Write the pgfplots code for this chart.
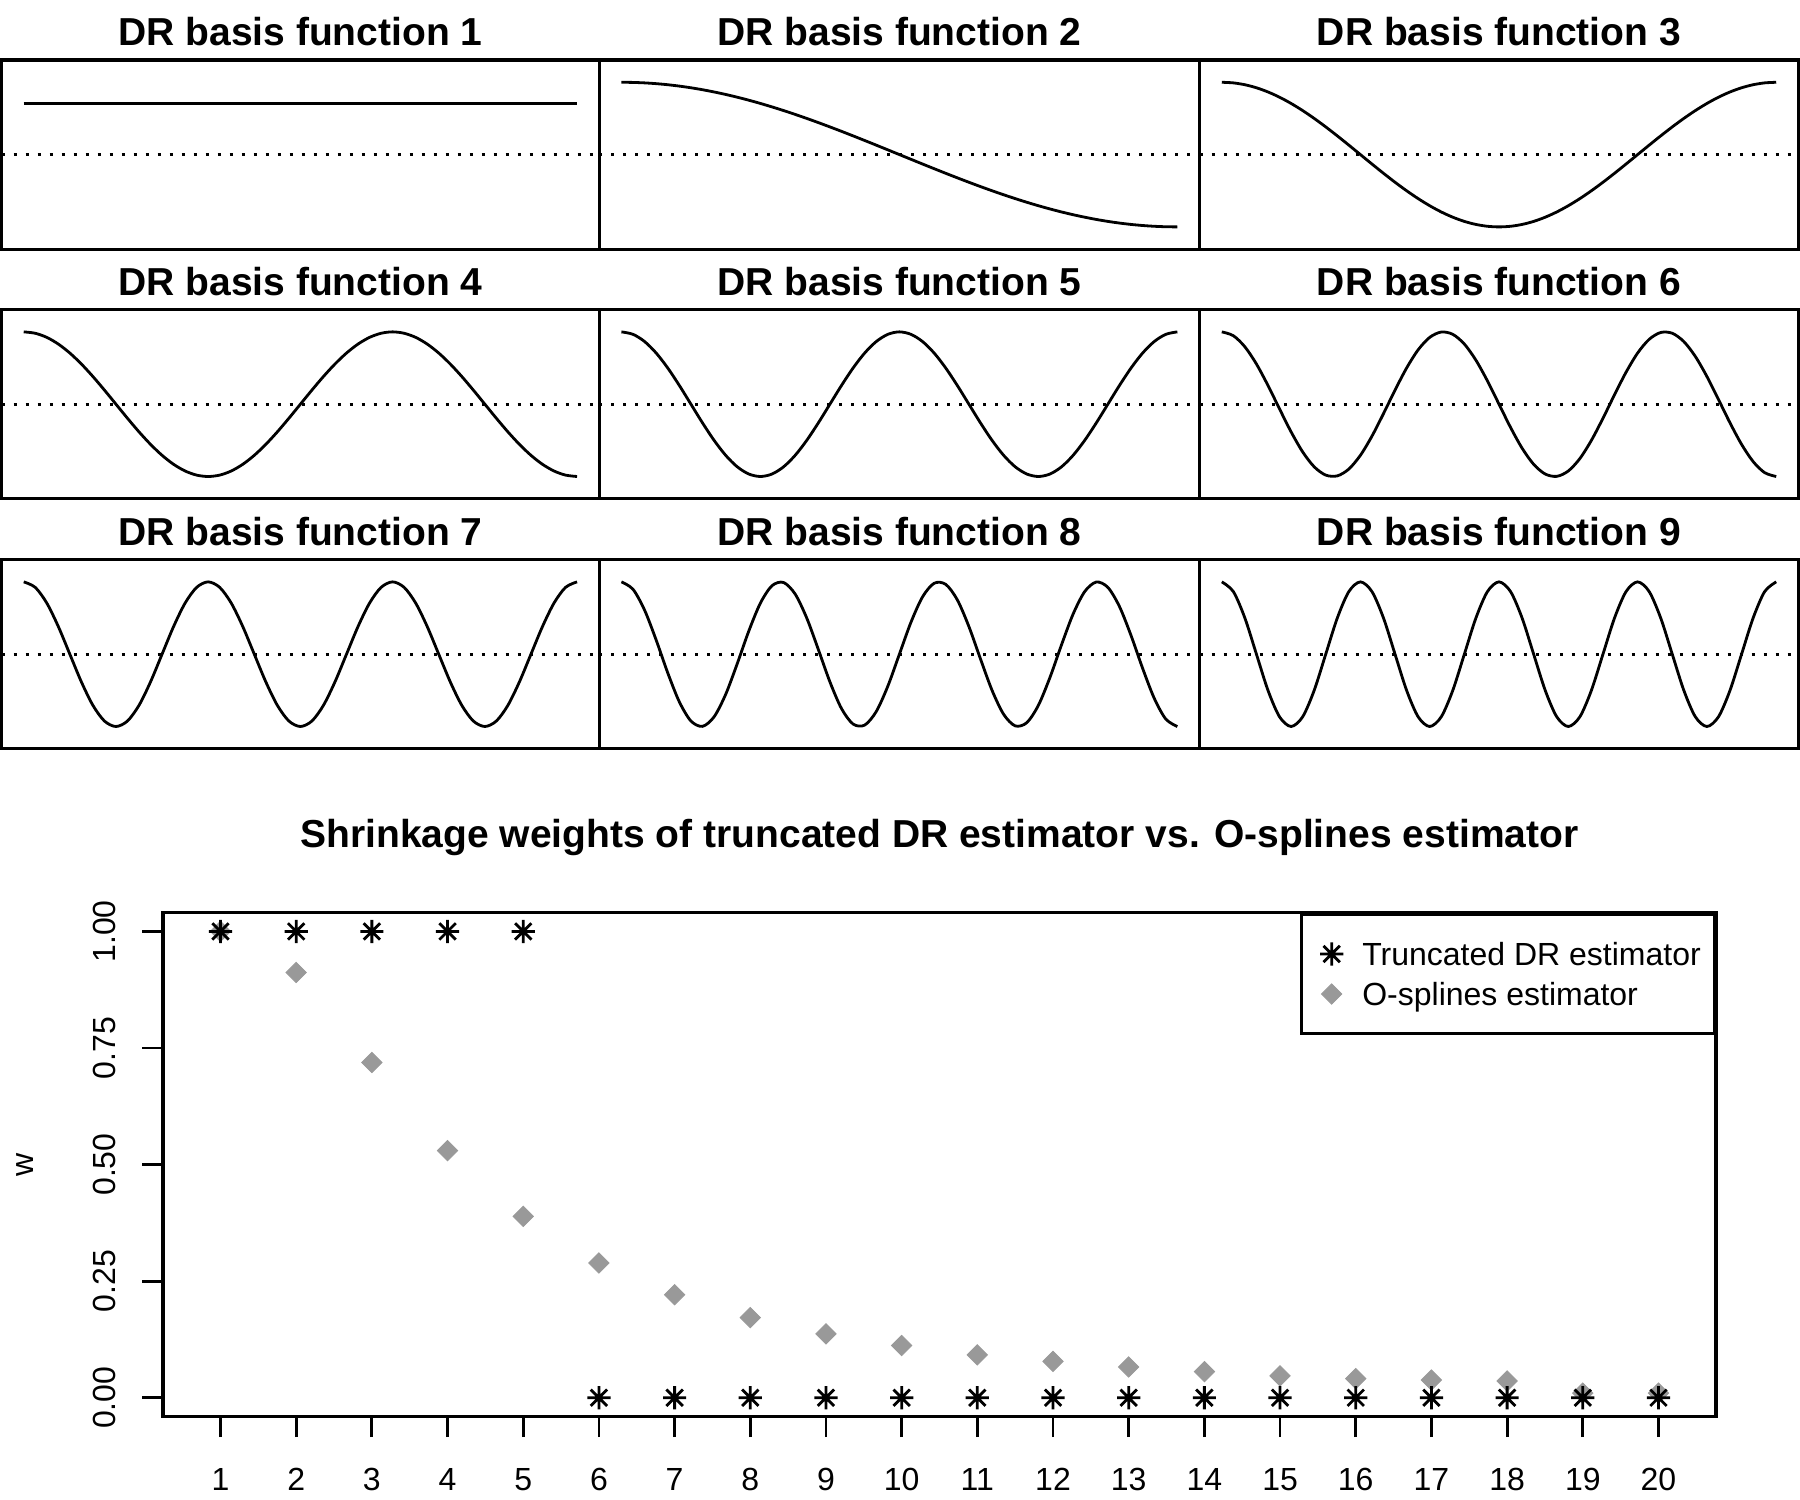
\documentclass[border=0pt]{standalone}
\usepackage{fontspec}
\setmainfont{Liberation Sans}
\usepackage{pgfplots}
\usepackage{pgfplotstable}
\pgfplotsset{compat=1.18}
\definecolor{rgray}{RGB}{153,153,153}
\pgfdeclareplotmark{Rast}{%
  \pgfpathmoveto{\pgfqpoint{-\pgfplotmarksize}{0pt}}\pgfpathlineto{\pgfqpoint{\pgfplotmarksize}{0pt}}%
  \pgfpathmoveto{\pgfqpoint{0pt}{-\pgfplotmarksize}}\pgfpathlineto{\pgfqpoint{0pt}{\pgfplotmarksize}}%
  \pgfpathmoveto{\pgfqpoint{-.70710678\pgfplotmarksize}{-.70710678\pgfplotmarksize}}\pgfpathlineto{\pgfqpoint{.70710678\pgfplotmarksize}{.70710678\pgfplotmarksize}}%
  \pgfpathmoveto{\pgfqpoint{-.70710678\pgfplotmarksize}{.70710678\pgfplotmarksize}}\pgfpathlineto{\pgfqpoint{.70710678\pgfplotmarksize}{-.70710678\pgfplotmarksize}}%
  \pgfusepathqstroke}

\pgfplotstableread{
x f2 f3 f4 f5 f6 f7 f8 f9
0 1.4142 1.4142 1.4142 1.4142 1.4142 1.4142 1.4142 1.4142
0.020833 1.4112 1.4021 1.3870 1.3660 1.3392 1.3066 1.2684 1.2247
0.041667 1.4021 1.3660 1.3066 1.2247 1.1220 1.0000 0.8609 0.7071
0.0625 1.3870 1.3066 1.1759 1.0000 0.7857 0.5412 0.2759 0
0.083333 1.3660 1.2247 1.0000 0.7071 0.3660 0 -0.3660 -0.7071
0.104167 1.3392 1.1220 0.7857 0.3660 -0.0925 -0.5412 -0.9325 -1.2247
0.125 1.3066 1.0000 0.5412 0 -0.5412 -1.0000 -1.3066 -1.4142
0.145833 1.2684 0.8609 0.2759 -0.3660 -0.9325 -1.3066 -1.4112 -1.2247
0.166667 1.2247 0.7071 0 -0.7071 -1.2247 -1.4142 -1.2247 -0.7071
0.1875 1.1759 0.5412 -0.2759 -1.0000 -1.3870 -1.3066 -0.7857 0
0.208333 1.1220 0.3660 -0.5412 -1.2247 -1.4021 -1.0000 -0.1846 0.7071
0.229167 1.0633 0.1846 -0.7857 -1.3660 -1.2684 -0.5412 0.4546 1.2247
0.25 1.0000 0 -1.0000 -1.4142 -1.0000 0 1.0000 1.4142
0.270833 0.9325 -0.1846 -1.1759 -1.3660 -0.6255 0.5412 1.3392 1.2247
0.291667 0.8609 -0.3660 -1.3066 -1.2247 -0.1846 1.0000 1.4021 0.7071
0.3125 0.7857 -0.5412 -1.3870 -1.0000 0.2759 1.3066 1.1759 0
0.333333 0.7071 -0.7071 -1.4142 -0.7071 0.7071 1.4142 0.7071 -0.7071
0.354167 0.6255 -0.8609 -1.3870 -0.3660 1.0633 1.3066 0.0925 -1.2247
0.375 0.5412 -1.0000 -1.3066 0 1.3066 1.0000 -0.5412 -1.4142
0.395833 0.4546 -1.1220 -1.1759 0.3660 1.4112 0.5412 -1.0633 -1.2247
0.416667 0.3660 -1.2247 -1.0000 0.7071 1.3660 0 -1.3660 -0.7071
0.4375 0.2759 -1.3066 -0.7857 1.0000 1.1759 -0.5412 -1.3870 0
0.458333 0.1846 -1.3660 -0.5412 1.2247 0.8609 -1.0000 -1.1220 0.7071
0.479167 0.0925 -1.4021 -0.2759 1.3660 0.4546 -1.3066 -0.6255 1.2247
0.5 0 -1.4142 0 1.4142 0 -1.4142 0 1.4142
0.520833 -0.0925 -1.4021 0.2759 1.3660 -0.4546 -1.3066 0.6255 1.2247
0.541667 -0.1846 -1.3660 0.5412 1.2247 -0.8609 -1.0000 1.1220 0.7071
0.5625 -0.2759 -1.3066 0.7857 1.0000 -1.1759 -0.5412 1.3870 0
0.583333 -0.3660 -1.2247 1.0000 0.7071 -1.3660 0 1.3660 -0.7071
0.604167 -0.4546 -1.1220 1.1759 0.3660 -1.4112 0.5412 1.0633 -1.2247
0.625 -0.5412 -1.0000 1.3066 0 -1.3066 1.0000 0.5412 -1.4142
0.645833 -0.6255 -0.8609 1.3870 -0.3660 -1.0633 1.3066 -0.0925 -1.2247
0.666667 -0.7071 -0.7071 1.4142 -0.7071 -0.7071 1.4142 -0.7071 -0.7071
0.6875 -0.7857 -0.5412 1.3870 -1.0000 -0.2759 1.3066 -1.1759 0
0.708333 -0.8609 -0.3660 1.3066 -1.2247 0.1846 1.0000 -1.4021 0.7071
0.729167 -0.9325 -0.1846 1.1759 -1.3660 0.6255 0.5412 -1.3392 1.2247
0.75 -1.0000 0 1.0000 -1.4142 1.0000 0 -1.0000 1.4142
0.770833 -1.0633 0.1846 0.7857 -1.3660 1.2684 -0.5412 -0.4546 1.2247
0.791667 -1.1220 0.3660 0.5412 -1.2247 1.4021 -1.0000 0.1846 0.7071
0.8125 -1.1759 0.5412 0.2759 -1.0000 1.3870 -1.3066 0.7857 0
0.833333 -1.2247 0.7071 0 -0.7071 1.2247 -1.4142 1.2247 -0.7071
0.854167 -1.2684 0.8609 -0.2759 -0.3660 0.9325 -1.3066 1.4112 -1.2247
0.875 -1.3066 1.0000 -0.5412 0 0.5412 -1.0000 1.3066 -1.4142
0.895833 -1.3392 1.1220 -0.7857 0.3660 0.0925 -0.5412 0.9325 -1.2247
0.916667 -1.3660 1.2247 -1.0000 0.7071 -0.3660 0 0.3660 -0.7071
0.9375 -1.3870 1.3066 -1.1759 1.0000 -0.7857 0.5412 -0.2759 0
0.958333 -1.4021 1.3660 -1.3066 1.2247 -1.1220 1.0000 -0.8609 0.7071
0.979167 -1.4112 1.4021 -1.3870 1.3660 -1.3392 1.3066 -1.2684 1.2247
1 -1.4142 1.4142 -1.4142 1.4142 -1.4142 1.4142 -1.4142 1.4142
}\basis

\pgfplotstableread{
k trunc osp
1 1 1.000
2 1 0.912
3 1 0.719
4 1 0.530
5 1 0.389
6 0 0.289
7 0 0.221
8 0 0.172
9 0 0.137
10 0 0.112
11 0 0.092
12 0 0.078
13 0 0.066
14 0 0.056
15 0 0.047
16 0 0.041
17 0 0.038
18 0 0.036
19 0 0.010
20 0 0.010
}\weights

\pgfplotsset{
  panel/.style={scale only axis, height=47.3pt, anchor=south west,
    xmin=-0.04, xmax=1.04, ymin=-1.85, ymax=1.85,
    xtick=\empty, ytick=\empty,
    axis line style={line width=0.8pt},
    every axis title/.style={at={(0.5,1)}, anchor=base, yshift=3.5pt,
      font=\bfseries\fontsize{9.75}{11.7}\selectfont}},
  curve/.style={black, line width=0.7pt, smooth},
  zline/.style={black, line width=0.75pt, dash pattern=on 0.75pt off 2.25pt},
}

\begin{document}
\begin{tikzpicture}
\useasboundingbox (0,0) rectangle (450pt,375pt);

% Row 1
\begin{axis}[panel, width=149.4pt, at={(0.4pt,312.7pt)}, title={DR basis function 1}]
\addplot[zline] coordinates {(-0.04,0) (1.04,0)};
\addplot[black, line width=0.7pt] coordinates {(0,1) (1,1)};
\end{axis}
\begin{axis}[panel, width=150.1pt, at={(149.8pt,312.7pt)}, title={DR basis function 2}]
\addplot[zline] coordinates {(-0.04,0) (1.04,0)};
\addplot[curve] table[x=x, y=f2] {\basis};
\end{axis}
\begin{axis}[panel, width=149.7pt, at={(299.9pt,312.7pt)}, title={DR basis function 3}]
\addplot[zline] coordinates {(-0.04,0) (1.04,0)};
\addplot[curve] table[x=x, y=f3] {\basis};
\end{axis}

% Row 2
\begin{axis}[panel, width=149.4pt, at={(0.4pt,250.3pt)}, title={DR basis function 4}]
\addplot[zline] coordinates {(-0.04,0) (1.04,0)};
\addplot[curve] table[x=x, y=f4] {\basis};
\end{axis}
\begin{axis}[panel, width=150.1pt, at={(149.8pt,250.3pt)}, title={DR basis function 5}]
\addplot[zline] coordinates {(-0.04,0) (1.04,0)};
\addplot[curve] table[x=x, y=f5] {\basis};
\end{axis}
\begin{axis}[panel, width=149.7pt, at={(299.9pt,250.3pt)}, title={DR basis function 6}]
\addplot[zline] coordinates {(-0.04,0) (1.04,0)};
\addplot[curve] table[x=x, y=f6] {\basis};
\end{axis}

% Row 3
\begin{axis}[panel, width=149.4pt, at={(0.4pt,187.8pt)}, title={DR basis function 7}]
\addplot[zline] coordinates {(-0.04,0) (1.04,0)};
\addplot[curve] table[x=x, y=f7] {\basis};
\end{axis}
\begin{axis}[panel, width=150.1pt, at={(149.8pt,187.8pt)}, title={DR basis function 8}]
\addplot[zline] coordinates {(-0.04,0) (1.04,0)};
\addplot[curve] table[x=x, y=f8] {\basis};
\end{axis}
\begin{axis}[panel, width=149.7pt, at={(299.9pt,187.8pt)}, title={DR basis function 9}]
\addplot[zline] coordinates {(-0.04,0) (1.04,0)};
\addplot[curve] table[x=x, y=f9] {\basis};
\end{axis}

% Shrinkage weights
\begin{axis}[scale only axis, width=388.25pt, height=125.9pt,
  at={(40.75pt,20.9pt)}, anchor=south west,
  xmin=0.24, xmax=20.76, ymin=-0.04, ymax=1.04,
  xtick={1,2,...,20},
  ytick={0,0.25,0.5,0.75,1},
  yticklabels={0.00,0.25,0.50,0.75,1.00},
  xtick pos=bottom, ytick pos=left,
  tick align=outside, major tick length=5.2pt,
  tick style={line width=0.7pt, black},
  axis line style={line width=0.8pt},
  /pgf/number format/assume math mode=true,
  tick label style={font=\fontsize{8}{9.6}\selectfont},
  every x tick label/.style={anchor=base, yshift=-13.3pt},
  every y tick label/.style={xshift=-6.7pt, rotate=90, anchor=base},
  title={Shrinkage weights of truncated DR estimator vs. O-splines estimator},
  every axis title/.style={at={(0.5,1)}, anchor=base, yshift=16.4pt,
    font=\bfseries\fontsize{9.75}{11.7}\selectfont},
  ylabel={w},
  every axis y label/.style={at={(axis description cs:-0.0835,0.5)}, rotate=90, anchor=base,
    font=\fontsize{8}{9.6}\selectfont},
  legend cell align=left,
  legend style={at={(1,1)}, anchor=north east, draw=black, line width=0.8pt,
    fill=white, inner xsep=3.4pt, inner ysep=5.9pt,
    font=\fontsize{8}{9.6}\selectfont, row sep=2pt, column sep=3.5pt,
    nodes={inner sep=0pt, text height=6.8pt, text depth=1.2pt}},
  legend image code/.code={\path (0pt,0pt) (7.6pt,0pt); \draw[#1] plot[only marks] coordinates {(3.8pt,0pt)};},
]
\addlegendimage{black, mark=Rast, mark size=2.9pt, line width=0.7pt}
\addlegendentry{Truncated DR estimator}
\addlegendimage{rgray, mark=square*, mark size=1.8pt, line width=0.2pt, mark options={rotate=45}}
\addlegendentry{O-splines estimator}
\addplot[forget plot, only marks, rgray, mark=square*, mark size=1.8pt, line width=0.2pt, mark options={rotate=45}]
  table[x=k, y=osp] {\weights};
\addplot[forget plot, only marks, black, mark=Rast, mark size=2.9pt, line width=0.7pt]
  table[x=k, y=trunc] {\weights};
\end{axis}
\end{tikzpicture}
\end{document}
